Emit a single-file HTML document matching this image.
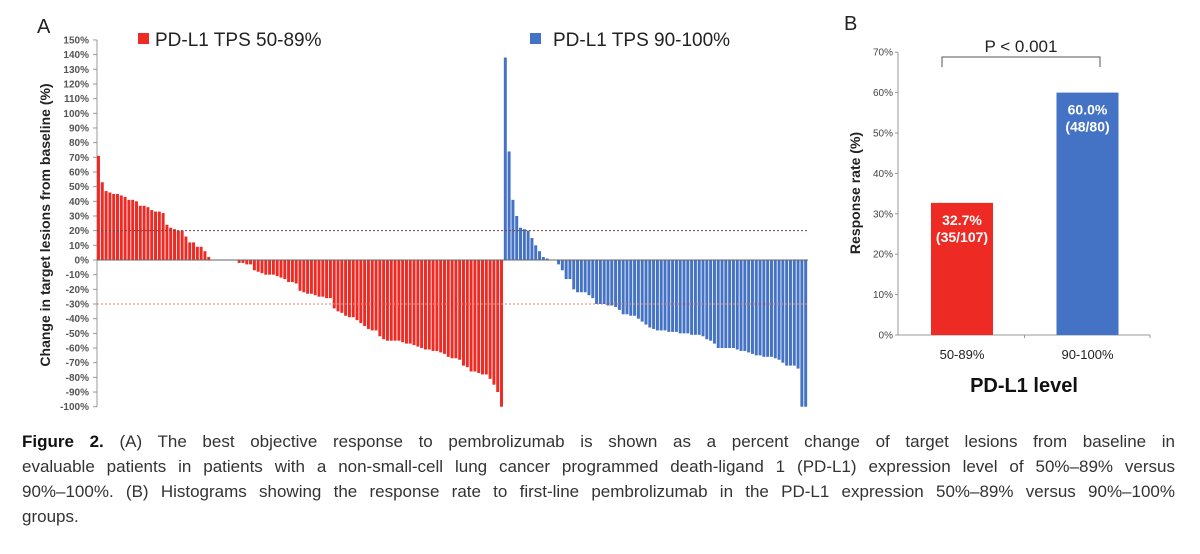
<!DOCTYPE html>
<html><head><meta charset="utf-8"><style>
html,body{margin:0;padding:0;background:#fff;width:1200px;height:554px;overflow:hidden}
svg{position:absolute;left:0;top:0}
#cap{position:absolute;left:22px;top:429px;width:1153px;font-family:"Liberation Sans",sans-serif;font-size:17px;line-height:25px;color:#333}
#cap span{display:block;text-align:justify;text-align-last:justify;white-space:nowrap}
#cap span.last{text-align-last:left}
#cap b{color:#111}
</style></head><body>
<svg id="chart" width="1200" height="430"></svg>
<div id="cap"><span style="white-space:normal"><b>Figure 2.</b> (A) The best objective response to pembrolizumab is shown as a percent change of target lesions from baseline in</span><span style="white-space:normal">evaluable patients in patients with a non-small-cell lung cancer programmed death-ligand 1 (PD-L1) expression level of 50%–89% versus</span><span style="white-space:normal">90%–100%. (B) Histograms showing the response rate to first-line pembrolizumab in the PD-L1 expression 50%–89% versus 90%–100%</span><span class="last">groups.</span></div>
<script>
const redValues=[71,53,47,46,45,45,44,43,41,41,40,37,37,36,34,33,33,32,24,22,21,20,20,16,12,12,9,9,6,2,
0,0,0,0,0,0,0,
-2,-2,-3,-3,-7,-8,-9,-10,-10,-10,-11,-12,-13,-15,-15,-16,
-21,-22,-23,-23,-24,-25,-25,-26,-26,
-33,-35,-36,-38,-39,-39,-41,-43,-45,-47,-48,-48,
-52,-54,-55,-55,-55,-55,-56,-57,-57,-58,-59,-60,-61,-61,-62,-62,-63,-64,-66,-67,-67,-68,-72,-73,-76,-76,-77,-78,-78,-81,-85,-90,-100];
const blueValues=[138,74,41,30,22,21,20,15,10,6,2,1,0,0,
-3,-7,-13,-13,-20,-22,-22,-22,-24,-26,-30,-30,-30,-31,-31,-32,-34,-37,-37,-38,-38,-40,-42,-44,-46,-47,-48,-48,-48,-49,-49,-49,-50,-50,-50,-51,-51,-51,-52,-54,-55,-57,-60,-60,-60,-60,-60,-61,-62,-62,-63,-64,-65,-65,-66,-66,-66,-67,-68,-70,-72,-72,-72,-74,-100,-100];
const yTicksA=[150,140,130,120,110,100,90,80,70,60,50,40,30,20,10,0,-10,-20,-30,-40,-50,-60,-70,-80,-90,-100];
const rateCats=["50-89%","90-100%"];
const rateValues=[32.7,60.0];
const rateLabels=[["32.7%","(35/107)"],["60.0%","(48/80)"]];
const yTicksB=[0,10,20,30,40,50,60,70];

const NS="http://www.w3.org/2000/svg";
const svg=document.getElementById('chart');
function mk(tag,attrs,parent,text){const e=document.createElementNS(NS,tag);for(const k in attrs)e.setAttribute(k,attrs[k]);if(text!==undefined)e.textContent=text;(parent||svg).appendChild(e);return e;}
const F='"Liberation Sans",sans-serif';
const RED='#ee2a24',BLUE='#4472c4';

// Panel A
const yA=v=>260-v*1.467;
const x0=97,x1=808;
const total=redValues.length+blueValues.length;
const pitch=(x1-x0)/total;
const xA=i=>x0+i*pitch;
let t=mk('text',{x:37,y:33,'font-family':F,'font-size':20,fill:'#222'},svg,'A');

const gA=mk('g',{});

yTicksA.forEach(v=>{
 const tk=mk('text',{x:89,y:yA(v)+3.5,'font-family':F,'font-size':10,'font-weight':'bold',fill:'#555','text-anchor':'end'},gA,v+'%');
 
 mk('line',{x1:93,x2:97,y1:yA(v),y2:yA(v),stroke:'#999','stroke-width':1},gA);
});
mk('line',{x1:97,x2:97,y1:yA(150),y2:yA(-100),stroke:'#999','stroke-width':1},gA);
t=mk('text',{transform:'translate(50,225) rotate(-90)','font-family':F,'font-size':14,'font-weight':'bold',fill:'#222','text-anchor':'middle'},gA,'Change in target lesions from baseline (%)');

function bars(vals,off,col,name){vals.forEach((v,i)=>{
 const x=xA(off+i);const y=Math.min(yA(v),yA(0));const h=Math.max(Math.abs(yA(v)-yA(0)),0);
 if(h<=0)return;
 const b=mk('rect',{x:x,y:y,width:pitch*0.78,height:h,fill:col},gA);
 
 
});}
bars(redValues,0,RED,'bar-tps-50-89');
bars(blueValues,redValues.length,BLUE,'bar-tps-90-100');
mk('line',{x1:97,x2:808,y1:yA(0),y2:yA(0),stroke:'#666','stroke-width':1},gA);
let l=mk('line',{x1:97,x2:808,y1:yA(20),y2:yA(20),stroke:'#7a4040','stroke-width':1,'stroke-dasharray':'2,2'},gA);

l=mk('line',{x1:97,x2:808,y1:yA(-30),y2:yA(-30),stroke:'#f08070','stroke-width':1,'stroke-dasharray':'2,2'},gA);

// legend
let lg=mk('g',{});
mk('rect',{x:138,y:33,width:11,height:11,fill:RED},lg);
mk('text',{x:155,y:46,'font-family':F,'font-size':19,fill:'#222'},lg,'PD-L1 TPS 50-89%');
lg=mk('g',{});
mk('rect',{x:530,y:33,width:11,height:11,fill:BLUE},lg);
mk('text',{x:553,y:46,'font-family':F,'font-size':19,fill:'#222'},lg,'PD-L1 TPS 90-100%');

// Panel B
const yB=v=>335-v*4.04;
t=mk('text',{x:844,y:30,'font-family':F,'font-size':20,fill:'#222'},svg,'B');

const gB=mk('g',{});
yTicksB.forEach(v=>{
 const tk=mk('text',{x:893,y:yB(v)+3.5,'font-family':F,'font-size':10,fill:'#444','text-anchor':'end'},gB,v+'%');
 
 mk('line',{x1:895,x2:898,y1:yB(v),y2:yB(v),stroke:'#999'},gB);
});
mk('line',{x1:898,x2:898,y1:yB(70),y2:yB(0),stroke:'#999'},gB);
mk('line',{x1:898,x2:1150,y1:yB(0),y2:yB(0),stroke:'#999'},gB);
const centers=[962,1087.5];
rateValues.forEach((v,i)=>{
 const b=mk('rect',{x:centers[i]-31,y:yB(v),width:62,height:yB(0)-yB(v),fill:i?BLUE:RED},gB);
 
 
 mk('text',{x:centers[i],y:yB(v)+22,'font-family':F,'font-size':14,'font-weight':'bold',fill:'#fff','text-anchor':'middle'},gB,rateLabels[i][0]);
 mk('text',{x:centers[i],y:yB(v)+39,'font-family':F,'font-size':14,'font-weight':'bold',fill:'#fff','text-anchor':'middle'},gB,rateLabels[i][1]);
 const c=mk('text',{x:centers[i],y:359,'font-family':F,'font-size':13,fill:'#222','text-anchor':'middle'},gB,rateCats[i]);
 
 mk('line',{x1:centers[i]+62.5,x2:centers[i]+62.5,y1:yB(0),y2:yB(0)+3,stroke:'#999'},gB);
});
t=mk('text',{x:1024,y:392,'font-family':F,'font-size':20,'font-weight':'bold',fill:'#111','text-anchor':'middle'},gB,'PD-L1 level');

t=mk('text',{transform:'translate(860,193) rotate(-90)','font-family':F,'font-size':14,'font-weight':'bold',fill:'#222','text-anchor':'middle'},gB,'Response rate (%)');

const br=mk('path',{d:'M942,67 V57 H1100 V67',fill:'none',stroke:'#555','stroke-width':1},gB);

t=mk('text',{x:1021,y:52,'font-family':F,'font-size':17,fill:'#222','text-anchor':'middle'},gB,'P < 0.001');

</script>
</body></html>
